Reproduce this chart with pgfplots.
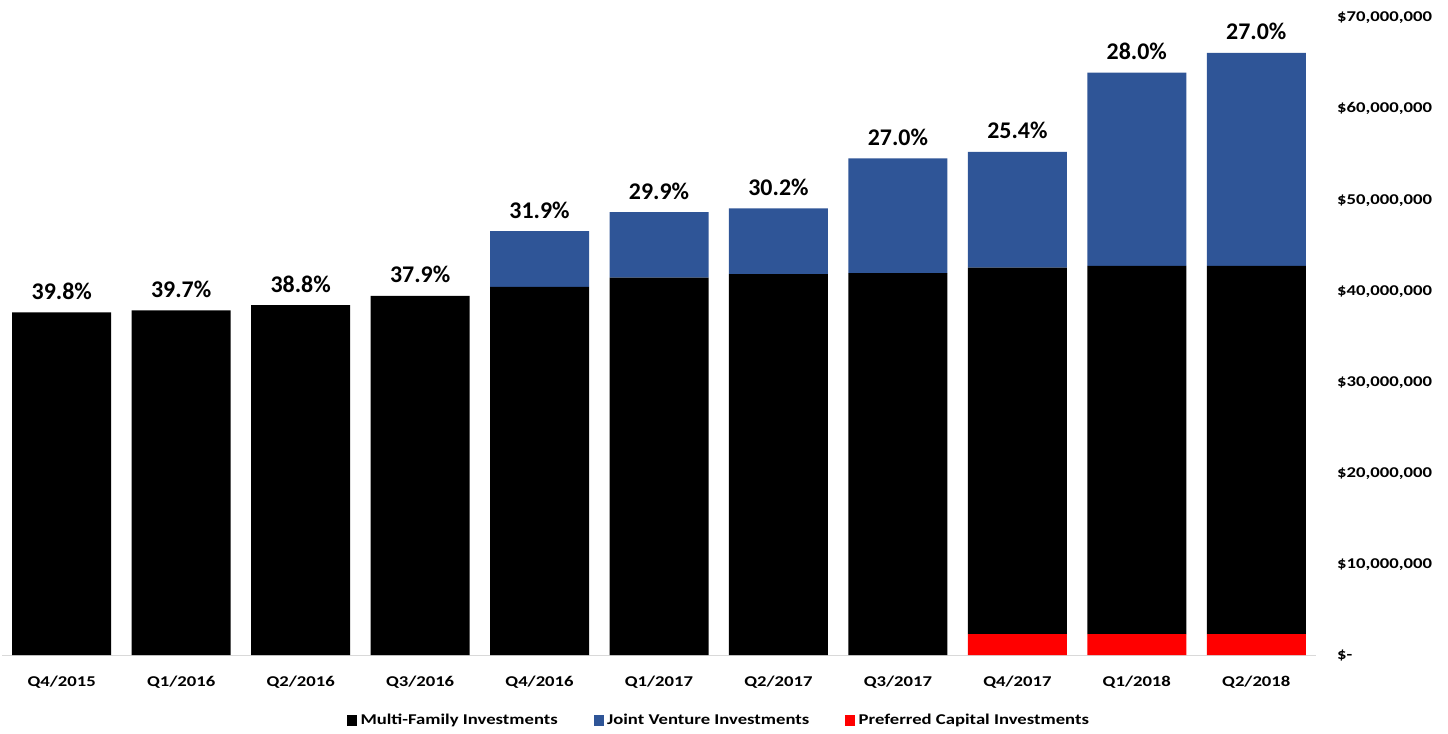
\documentclass[border=0pt]{standalone}
\usepackage{fontspec}
\setmainfont{Carlito}
\newfontfamily\widefont[FakeStretch=1.25]{Carlito}
\usepackage{pgfplots}
\pgfplotsset{compat=1.18}
\usepackage{pgfplotstable}
\definecolor{jvblue}{HTML}{2F5597}
\definecolor{axgray}{HTML}{D9D9D9}
\definecolor{pcred}{HTML}{FF0000}

\pgfplotstableread{
x mf jv pc tot lbl
0 37.6 0 0 37.6 39.8
1 37.8 0 0 37.8 39.7
2 38.4 0 0 38.4 38.8
3 39.4 0 0 39.4 37.9
4 40.4 6.1 0 46.5 31.9
5 41.4 7.2 0 48.6 29.9
6 41.8 7.2 0 49.0 30.2
7 41.9 12.6 0 54.5 27.0
8 40.2 12.7 2.3 55.2 25.4
9 40.4 21.2 2.3 63.9 28.0
10 40.4 23.35 2.3 66.05 27.0
}\data

\begin{document}
\begin{tikzpicture}
\useasboundingbox (-2bp,-79bp) rectangle (1446bp,655bp);
\begin{axis}[
  at={(0,0)}, anchor=south west,
  scale only axis, width=1314bp, height=638bp,
  ybar stacked, bar width=99bp,
  xmin=-0.5, xmax=10.5, ymin=0, ymax=70,
  axis x line*=bottom, axis y line*=right,
  x axis line style={draw=axgray, line width=1bp, -},
  y axis line style={draw=none},
  xtick=data,
  xticklabels={Q4/2015,Q1/2016,Q2/2016,Q3/2016,Q4/2016,Q1/2017,Q2/2017,Q3/2017,Q4/2017,Q1/2018,Q2/2018},
  major tick length=0pt,
  ytick={0,10,20,30,40,50,60,70},
  yticklabels={{\$-},{\$10,000,000},{\$20,000,000},{\$30,000,000},{\$40,000,000},{\$50,000,000},{\$60,000,000},{\$70,000,000}},
  xticklabel style={font=\widefont\bfseries\fontsize{15}{17}\selectfont, anchor=base, inner sep=0pt, yshift=-31bp},
  yticklabel style={font=\widefont\bfseries\fontsize{15}{17}\selectfont, anchor=base west, inner sep=0pt, xshift=21bp, yshift=-4.8bp},
  legend style={draw=none, fill=none, legend columns=3,
    at={(0.5457,0)}, anchor=center, yshift=-65bp,
    font=\widefont\bfseries\fontsize{15}{17}\selectfont,
    /tikz/every odd column/.style={column sep=2bp},
    /tikz/every even column/.style={column sep=34bp}},
  legend cell align=left,
]
\addlegendimage{legend image code/.code={\fill[black] (0bp,-5bp) rectangle (9bp,5bp);}}
\addlegendentry{Multi-Family Investments}
\addlegendimage{legend image code/.code={\fill[jvblue] (0bp,-5bp) rectangle (9bp,5bp);}}
\addlegendentry{Joint Venture Investments}
\addlegendimage{legend image code/.code={\fill[pcred] (0bp,-5bp) rectangle (9bp,5bp);}}
\addlegendentry{Preferred Capital Investments}
\addplot[fill=pcred, draw=none, forget plot] table[x=x, y=pc] {\data};
\addplot[fill=black, draw=none, forget plot] table[x=x, y=mf] {\data};
\addplot[fill=jvblue, draw=none, forget plot] table[x=x, y=jv] {\data};
\end{axis}
\begin{axis}[
  at={(0,0)}, anchor=south west,
  scale only axis, width=1314bp, height=638bp,
  xmin=-0.5, xmax=10.5, ymin=0, ymax=70,
  hide axis,
]
\addplot[draw=none, mark=none,
  point meta=explicit symbolic,
  nodes near coords={\pgfplotspointmeta\%},
  nodes near coords style={font=\bfseries\fontsize{24}{26}\selectfont, anchor=base, inner sep=0pt, yshift=13bp, text=black}]
  table[x=x, y=tot, meta=lbl] {\data};
\end{axis}
\end{tikzpicture}
\end{document}
